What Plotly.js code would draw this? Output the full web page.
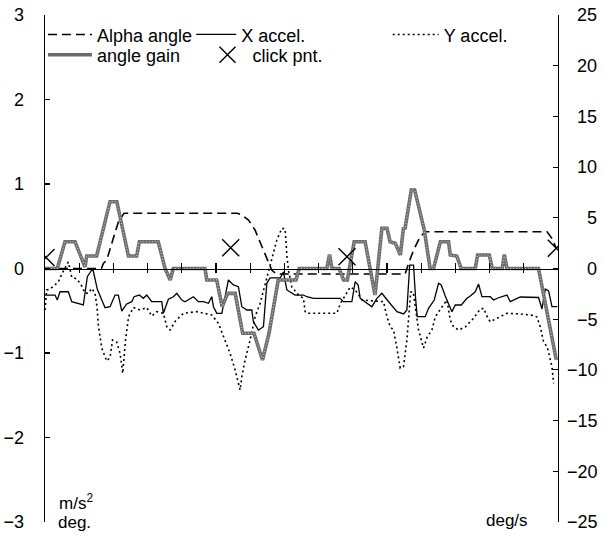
<!DOCTYPE html>
<html>
<head>
<meta charset="utf-8">
<script src="https://cdn.plot.ly/plotly-3.0.1.min.js"></script>
<style>html,body{margin:0;padding:0;background:#fff;}#chart{width:604px;height:539px;}</style>
</head>
<body>
<div id="chart"></div>
<script>
// ---- data (time axis 0..15, left axis: m/s^2 & deg, right axis: deg/s) ----
const alphaT = [0, 1.65, 1.706, 1.805, 2.0, 2.145, 2.31, 5.62, 5.755, 5.95, 6.14, 6.34, 6.49, 6.63, 6.76, 10.53, 10.63, 10.78, 10.97, 11.12, 14.68, 14.82, 14.95];
const alphaV = [0, 0, 0.06, 0.10, 0.36, 0.55, 0.653, 0.653, 0.633, 0.574, 0.456, 0.258, 0.12, -0.018, -0.065, -0.065, 0.06, 0.22, 0.376, 0.435, 0.435, 0.357, 0.239];

const xAccT = [0, 0.293, 0.36, 0.439, 0.682, 0.781, 1.121, 1.238, 1.396, 1.53, 1.756, 1.902, 2.048, 2.145, 2.244, 2.39, 2.537, 2.604, 2.759, 2.876, 2.975, 3.122, 3.414, 3.461, 3.607, 3.754, 3.853, 4.0, 4.096, 4.339, 4.485, 4.631, 4.778, 4.877, 4.924, 5.023, 5.17, 5.266, 5.363, 5.509, 5.655, 5.755, 5.901, 6.047, 6.094, 6.24, 6.387, 6.486, 6.583, 6.876, 6.972, 7.071, 7.314, 7.557, 7.656, 7.85, 8.63, 8.727, 8.973, 9.07, 9.157, 9.216, 9.412, 9.558, 9.705, 9.851, 10.006, 10.29, 10.483, 10.582, 10.664, 10.775, 10.84, 10.884, 11.118, 11.214, 11.381, 11.507, 11.586, 11.703, 11.899, 11.995, 12.171, 12.338, 12.434, 12.581, 12.677, 12.776, 13.019, 13.116, 13.262, 13.508, 13.604, 13.897, 14.432, 14.532, 14.628, 14.725, 14.824, 14.979];
const xAccV = [-0.314, -0.314, -0.373, -0.275, -0.275, -0.393, -0.432, -0.097, 0.0, -0.246, -0.464, -0.452, -0.314, -0.314, -0.503, -0.42, -0.393, -0.334, -0.314, -0.353, -0.314, -0.393, -0.393, -0.53, -0.364, -0.334, -0.293, -0.373, -0.393, -0.334, -0.393, -0.393, -0.412, -0.334, -0.452, -0.53, -0.53, -0.314, -0.136, -0.195, -0.215, -0.452, -0.491, -0.491, -0.63, -0.728, -0.689, -0.175, -0.112, -0.112, -0.041, -0.254, -0.314, -0.314, -0.334, -0.353, -0.353, -0.393, -0.393, -0.156, -0.195, -0.353, -0.412, -0.452, -0.353, -0.293, -0.373, -0.511, -0.538, -0.491, 0.041, 0.041, -0.373, -0.57, -0.57, -0.471, -0.373, -0.175, -0.195, -0.325, -0.511, -0.432, -0.432, -0.353, -0.325, -0.275, -0.183, -0.334, -0.334, -0.373, -0.346, -0.314, -0.393, -0.337, -0.343, -0.479, -0.243, -0.266, -0.452, -0.452];

const yAccT = [0, 0.05, 0.146, 0.293, 0.389, 0.489, 0.682, 0.781, 0.936, 1.074, 1.17, 1.267, 1.366, 1.463, 1.521, 1.559, 1.659, 1.805, 1.902, 1.975, 2.098, 2.194, 2.273, 2.355, 2.443, 2.583, 2.779, 2.975, 3.122, 3.268, 3.461, 3.561, 3.657, 3.803, 4.046, 4.438, 4.631, 4.877, 5.07, 5.266, 5.413, 5.559, 5.705, 5.755, 5.851, 5.997, 6.144, 6.29, 6.436, 6.583, 6.679, 6.779, 6.925, 7.022, 7.071, 7.118, 7.218, 7.411, 7.557, 7.607, 7.656, 8.534, 8.631, 8.827, 8.923, 9.07, 9.275, 9.898, 9.997, 10.094, 10.19, 10.29, 10.386, 10.483, 10.582, 10.629, 10.693, 10.767, 10.825, 10.922, 11.068, 11.176, 11.314, 11.41, 11.606, 11.752, 11.849, 11.945, 12.092, 12.288, 12.531, 12.727, 12.829, 12.932, 13.019, 13.215, 13.508, 13.897, 14.286, 14.385, 14.482, 14.579, 14.687, 14.824, 14.871];
const yAccV = [-0.491, -0.254, -0.243, -0.195, -0.16, -0.065, 0.077, -0.101, -0.124, -0.207, -0.29, -0.293, -0.234, -0.293, -0.456, -0.669, -0.941, -1.095, -1.053, -0.846, -0.87, -1.004, -1.24, -0.846, -0.57, -0.462, -0.491, -0.462, -0.562, -0.511, -0.53, -0.689, -0.728, -0.627, -0.53, -0.511, -0.53, -0.55, -0.649, -0.846, -1.004, -1.201, -1.438, -1.28, -1.083, -0.846, -0.57, -0.412, -0.195, 0.041, 0.16, 0.337, 0.476, 0.467, 0.16, -0.018, -0.219, -0.314, -0.353, -0.511, -0.53, -0.53, -0.42, -0.293, -0.219, -0.254, -0.373, -0.393, -0.57, -0.689, -0.728, -0.941, -1.178, -1.162, -0.846, -0.609, -0.278, -0.278, -0.432, -0.728, -0.941, -0.811, -0.728, -0.574, -0.456, -0.373, -0.609, -0.689, -0.728, -0.692, -0.589, -0.479, -0.471, -0.574, -0.63, -0.589, -0.53, -0.538, -0.556, -0.574, -0.692, -0.87, -0.929, -1.162, -1.359];

const gainT = [0, 0.36, 0.585, 0.878, 1.17, 1.22, 1.51, 1.90, 2.10, 2.44, 2.68, 2.76, 3.31, 3.51, 3.66, 3.75, 4.68, 4.73, 5.02, 5.18, 5.34, 5.56, 5.78, 6.11, 6.36, 6.55, 6.82, 7.34, 7.43, 8.24, 8.32, 8.39, 8.60, 8.73, 8.84, 9.04, 9.36, 9.65, 9.85, 10.0, 10.09, 10.24, 10.39, 10.48, 10.53, 10.71, 10.81, 11.09, 11.26, 11.36, 11.56, 11.80, 11.85, 12.04, 12.17, 12.58, 12.65, 12.99, 13.08, 13.37, 13.43, 13.51, 14.43, 14.95];
const gainV = [0, 0, 2.64, 2.64, 0.15, 1.23, 1.23, 6.59, 6.59, 1.23, 1.23, 2.64, 2.64, 0, -1.13, 0, 0, -1.13, -1.13, -3.77, -2.45, -2.45, -6.39, -6.39, -9.02, -6.39, -1.13, -1.13, 0, 0, 1.38, 0, 0, -1.13, -1.13, 2.64, 2.64, -2.61, 3.96, 3.96, 2.64, 2.5, 1.33, 3.96, 4.0, 7.74, 7.74, 3.8, 0, 0, 2.64, 2.64, 1.33, 1.23, 0, 0, 1.33, 1.33, 0, 0, 1.38, 0, 0, -9.02];

const clickT = [0.03, 5.43, 8.83, 14.95];
const clickV = [0.13, 0.245, 0.14, 0.24];

const leftTicks = [-3, -2, -1, 0, 1, 2, 3];
const rightTicks = [-25, -20, -15, -10, -5, 0, 5, 10, 15, 20, 25];
const rightTickText = ['\u2212' + '25', '\u221220', '\u221215', '\u221210', '\u2007\u22125', '\u2007\u20070', '\u2007\u20075', '\u200710', '\u200715', '\u200720', '\u200725'];
const timeTicks = [1, 2, 3, 4, 5, 6, 7, 8, 9, 10, 11, 12, 13, 14];

const FONT = 'Liberation Sans, Arial, sans-serif';

const traces = [
  {x: gainT, y: gainV, yaxis: 'y2', mode: 'lines', name: 'angle gain', legend: 'legend4',
   line: {color: '#6c6c6c', width: 3.6}},
  {x: gainT, y: gainV, yaxis: 'y2', mode: 'lines', showlegend: false, hoverinfo: 'skip',
   line: {color: '#c4c4c4', width: 1.2, dash: '1px,2px'}},
  {x: alphaT, y: alphaV, mode: 'lines', name: 'Alpha angle', legend: 'legend',
   line: {color: '#000', width: 1.6, dash: '9px,5px'}},
  {x: xAccT, y: xAccV, mode: 'lines', name: 'X accel.', legend: 'legend2',
   line: {color: '#000', width: 1.3}},
  {x: yAccT, y: yAccV, mode: 'lines', name: 'Y accel.', legend: 'legend3',
   line: {color: '#000', width: 1.6, dash: '2px,3px'}},
  {x: clickT, y: clickV, xaxis: 'x2', mode: 'markers', name: 'click pnt.', legend: 'legend5',
   marker: {symbol: 'x-thin-open', size: 17, color: '#000', line: {color: '#000', width: 1.4}}}
];

function leg(x, y) {
  return {x: x, y: y, xanchor: 'left', yanchor: 'middle', bgcolor: 'rgba(0,0,0,0)',
          borderwidth: 0, itemwidth: 44, font: {family: FONT, size: 18, color: '#000'},
          orientation: 'h', tracegroupgap: 0};
}

const layout = {
  width: 604, height: 539,
  margin: {l: 45, r: 46, t: 15, b: 17, pad: 0},
  paper_bgcolor: '#fff', plot_bgcolor: '#fff',
  font: {family: FONT, size: 18, color: '#000'},
  xaxis: {range: [0, 15], anchor: 'free', position: 0.5, showline: true, linecolor: '#000', linewidth: 1.3,
          ticks: 'inside', ticklen: 6, tickwidth: 1.2, tickcolor: '#000', tickvals: timeTicks,
          showticklabels: false, showgrid: false, zeroline: false},
  xaxis2: {range: [0, 15], matches: 'x', overlaying: 'x', anchor: 'free', position: 0.5, showline: false,
           ticks: 'outside', ticklen: 3, tickwidth: 1.2, tickcolor: '#000', tickvals: timeTicks,
           showticklabels: false, showgrid: false, zeroline: false},
  yaxis: {range: [-3, 3], showline: true, linecolor: '#000', linewidth: 1.3, ticks: 'inside', ticklen: 5,
          tickwidth: 1.2, tickcolor: '#000', tickvals: leftTicks, showgrid: false, zeroline: false,
          ticklabelstandoff: 16, tickfont: {family: FONT, size: 18, color: '#000'}},
  yaxis2: {range: [-25, 25], overlaying: 'y', side: 'right', showline: true, linecolor: '#000', linewidth: 1.3,
           ticks: 'inside', ticklen: 5, tickwidth: 1.2, tickcolor: '#000', tickvals: rightTicks,
           ticktext: rightTickText, showgrid: false, zeroline: false, ticklabelstandoff: 4,
           tickfont: {family: FONT, size: 18, color: '#000'}},
  showlegend: true,
  legend: leg(-0.004, 0.961),
  legend2: Object.assign(leg(0.285, 0.961), {itemwidth: 40}),
  legend3: Object.assign(leg(0.668, 0.961), {itemwidth: 46}),
  legend4: leg(-0.004, 0.921),
  legend5: Object.assign(leg(0.307, 0.921), {itemwidth: 40}),
  annotations: [
    {xref: 'paper', yref: 'paper', x: 0.024, y: 0.04, xanchor: 'left', yanchor: 'middle', showarrow: false,
     text: 'm/s<sup>2</sup>', font: {family: FONT, size: 17, color: '#000'}},
    {xref: 'paper', yref: 'paper', x: 0.022, y: 0.0, xanchor: 'left', yanchor: 'middle', showarrow: false,
     text: 'deg.', font: {family: FONT, size: 17, color: '#000'}},
    {xref: 'paper', yref: 'paper', x: 0.946, y: 0.002, xanchor: 'right', yanchor: 'middle', showarrow: false,
     text: 'deg/s', font: {family: FONT, size: 17, color: '#000'}}
  ]
};

Plotly.newPlot('chart', traces, layout, {displayModeBar: false, staticPlot: true});
</script>
</body>
</html>
